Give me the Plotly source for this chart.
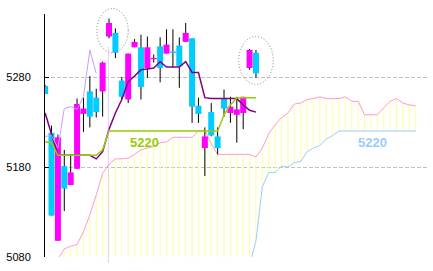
import plotly.graph_objects as go

# ---------------- data ----------------
opens  = [5270, 5218, 5098, 5181, 5160, 5178, 5239, 5264, 5257, 5264,
          5325, 5329, 5276, 5255, 5313, 5313, 5290, 5300, 5314, 5306,
          5308, 5315, 5319, 5323, 5248, 5201, 5241, 5214, 5256, 5240,
          5238, 5240, 5290, 5307]
closes = [5261, 5126, 5213, 5156, 5174, 5250, 5245, 5236, 5241, 5296,
          5340, 5307, 5258, 5306, 5319, 5269, 5313, 5301, 5290, 5316,
          5307, 5292, 5329, 5247, 5239, 5214, 5215, 5201, 5245, 5247,
          5244, 5258, 5310, 5284]
highs  = [5271, 5226, 5216, 5199, 5194, 5256, 5257, 5281, 5267, 5297,
          5345, 5334, 5280, 5306, 5322, 5327, 5325, 5305, 5324, 5333,
          5333, 5324, 5340, 5323, 5257, 5224, 5251, 5224, 5266, 5258,
          5258, 5258, 5311, 5310]
lows   = [5261, 5126, 5098, 5131, 5160, 5178, 5219, 5224, 5235, 5236,
          5323, 5301, 5255, 5251, 5313, 5255, 5279, 5296, 5274, 5306,
          5291, 5268, 5319, 5229, 5229, 5170, 5214, 5194, 5236, 5229,
          5207, 5222, 5288, 5279]

purple_line = [5240, 5215, 5193, 5193, 5193, 5193, 5193, 5193, 5189, 5197,
               5222, 5240, 5255, 5275, 5281, 5288, 5289, 5290, 5297, 5291,
               5291, 5291, 5297, 5285, 5285, 5257, 5256, 5256, 5256, 5256,
               5256, 5249, 5243, 5241]
green_line = ([5208, 5207, 5193, 5193, 5193, 5193, 5193, 5193, 5193, 5199]
              + [5220] * 18 + [5238, 5249, 5257, 5257, 5257, 5257])

senkou_a = [None, None,
            5078, 5089, 5092, 5094, 5108, 5127, 5149, 5173, 5183, 5189,
            5189, 5190, 5194, 5199, 5201, 5203, 5207, 5208, 5213, 5213,
            5213, 5213, 5220, 5221, 5206, 5194, 5194, 5194, 5194, 5194,
            5194, 5191, 5201, 5217, 5227, 5235, 5240, 5250, 5251, 5255,
            5256, 5258, 5256, 5256, 5256, 5258, 5253, 5253, 5238, 5238,
            5238, 5246, 5253, 5256, 5251, 5249, 5248]
senkou_b = ([None] * 32
            + [5071, 5098, 5158, 5174, 5174, 5181, 5180, 5185, 5186, 5197,
               5201, 5204, 5211, 5215] + [5220] * 13)

CHIKOU_SHIFT = 25
tick_values = [5080, 5180, 5280]
tick_labels = ["5080", "5180", "5280"]
green_label = "5220"
blue_label = "5220"

# ---------------- styling / layout constants ----------------
X_RANGE = [-0.02, 59.77]
Y_RANGE = [5080, 5350]
MAGENTA = "#FF00FF"
CYAN = "#00CCFF"
BODY_PX = 6
MIN_BODY = 1.5

n = len(opens)
idx = list(range(n))

fig = go.Figure()

# cloud yellow vertical lines
yx, yy = [], []
for i, a in enumerate(senkou_a):
    if a is None or a < Y_RANGE[0]:
        continue
    b = senkou_b[i] if senkou_b[i] is not None else Y_RANGE[0]
    yx += [i, i, None]
    yy += [a, max(b, Y_RANGE[0]), None]
fig.add_trace(go.Scatter(x=yx, y=yy, mode="lines", line=dict(color="#FFFF99", width=1),
                         hoverinfo="skip", showlegend=False))

# senkou spans
fig.add_trace(go.Scatter(x=list(range(len(senkou_a))), y=senkou_a, mode="lines",
                         line=dict(color="#FF99CC", width=1), showlegend=False))
fig.add_trace(go.Scatter(x=list(range(len(senkou_b))), y=senkou_b, mode="lines",
                         line=dict(color="#99CCFF", width=1), showlegend=False))

# wicks
wx, wy = [], []
for i in idx:
    wx += [i, i, None]
    wy += [lows[i], highs[i], None]
fig.add_trace(go.Scatter(x=wx, y=wy, mode="lines", line=dict(color="black", width=1),
                         showlegend=False))

# bodies (thick vertical segments so they layer above the wicks)
for up in (True, False):
    bx, by = [], []
    for i in idx:
        if (closes[i] >= opens[i]) != up:
            continue
        lo, hi = min(opens[i], closes[i]), max(opens[i], closes[i])
        if hi - lo < MIN_BODY:
            mid = (hi + lo) / 2
            lo, hi = mid - MIN_BODY / 2, mid + MIN_BODY / 2
        bx += [i, i, None]
        by += [lo, hi, None]
    fig.add_trace(go.Scatter(x=bx, y=by, mode="lines",
                             line=dict(color=MAGENTA if up else CYAN, width=BODY_PX),
                             showlegend=False))

# lines
fig.add_trace(go.Scatter(x=idx, y=purple_line, mode="lines",
                         line=dict(color="#800080", width=1.5), showlegend=False))
fig.add_trace(go.Scatter(x=idx, y=green_line, mode="lines",
                         line=dict(color="#99CC00", width=1.5), showlegend=False))
chikou_x = list(range(n - CHIKOU_SHIFT))
chikou_y = closes[CHIKOU_SHIFT:]
fig.add_trace(go.Scatter(x=chikou_x, y=chikou_y, mode="lines",
                         line=dict(color="#CC99FF", width=1), showlegend=False))


def px(v):
    return (v - X_RANGE[0]) / (X_RANGE[1] - X_RANGE[0])


def py(v):
    return (v - Y_RANGE[0]) / (Y_RANGE[1] - Y_RANGE[0])


shapes = []
# highlight ellipses (index range, price range)
for (x0, x1, y0, y1) in [(8.1, 13.0, 5307, 5356), (30.3, 35.7, 5272, 5325)]:
    shapes.append(dict(type="circle", xref="paper", yref="paper",
                       x0=px(x0), x1=px(x1), y0=py(y0), y1=py(y1),
                       line=dict(color="#808080", width=1, dash="1px,2px")))
# vertical dotted marker
shapes.append(dict(type="line", xref="paper", yref="paper",
                   x0=px(9.9), x1=px(9.9), y0=py(5313), y1=py(5074),
                   line=dict(color="#CC99FF", width=1, dash="1px,1px")))

fig.update_layout(
    width=433, height=271,
    margin=dict(l=45, r=6, t=14, b=14, pad=0),
    paper_bgcolor="white", plot_bgcolor="white",
    shapes=shapes,
    showlegend=False,
    xaxis=dict(range=X_RANGE, visible=False, showgrid=False, zeroline=False),
    yaxis=dict(range=Y_RANGE, tickvals=tick_values, ticktext=tick_labels,
               showline=True, linecolor="black", linewidth=1,
               ticks="inside", ticklen=4, tickcolor="black", tickwidth=1,
               ticklabelstandoff=11,
               showgrid=True, gridcolor="#C0C0C0", gridwidth=1, griddash="4px,2px",
               zeroline=False,
               tickfont=dict(family="Liberation Sans", size=11, color="black")),
    annotations=[
        dict(x=15.5, y=5220, xref="x", yref="y", text=green_label, showarrow=False,
             yanchor="top", yshift=-2,
             font=dict(family="Liberation Sans", size=13, color="#99CC00", weight="bold")),
        dict(x=51.2, y=5220, xref="x", yref="y", text=blue_label, showarrow=False,
             yanchor="top", yshift=-2,
             font=dict(family="Liberation Sans", size=13, color="#99CCFF", weight="bold")),
    ],
)

fig.write_html("out.html")
